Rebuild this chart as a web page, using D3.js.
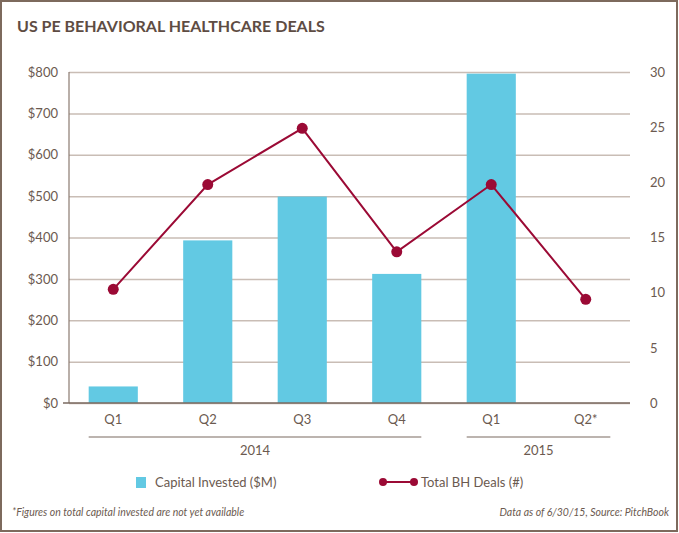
<!DOCTYPE html>
<html>
<head>
<meta charset="utf-8">
<script src="https://cdn.jsdelivr.net/npm/d3@7"></script>
<style>
  body { margin: 0; background: #fff; }
  text { font-family: Lato, "Open Sans", sans-serif; }
</style>
</head>
<body>
<div id="chart"></div>
<script>
// data
var quarters = ["Q1", "Q2", "Q3", "Q4", "Q1", "Q2*"];
var years = [{label: "2014", from: 0, to: 3}, {label: "2015", from: 4, to: 5}];
var capital = [40, 393, 499, 312, 796, null];
var deals = [10.3, 19.8, 24.9, 13.7, 19.8, 9.4];
var leftTicks = [0, 100, 200, 300, 400, 500, 600, 700, 800];
var rightTicks = [0, 5, 10, 15, 20, 25, 30];

var W = 679, H = 533;
var textColor = "#6b5a50", red = "#9b0a35", blue = "#62c9e3";

var svg = d3.select("#chart")
    .append("svg")
    .attr("width", W)
    .attr("height", H);

// border
svg.append("rect")
    .attr("x", 1).attr("y", 1)
    .attr("width", W - 3).attr("height", H - 3)
    .attr("fill", "none")
    .attr("stroke", "#7d6a5d")
    .attr("stroke-width", 2);

// title
svg.append("text")
    .attr("x", 17).attr("y", 32)
    .attr("fill", "#5e4c43")
    .style("font-size", "16px")
    .style("font-weight", "bold")
    .text("US PE BEHAVIORAL HEALTHCARE DEALS");

var x = d3.scaleBand()
    .domain(d3.range(quarters.length))
    .range([66, 633])
    .paddingInner(0.48)
    .paddingOuter(0.24);

var y = d3.scaleLinear().domain([0, 800]).range([403, 72]);
var y2 = d3.scaleLinear().domain([0, 30]).range([403, 72]);

// left axis with gridlines
var gLeft = svg.append("g")
    .attr("transform", "translate(69,0)")
    .call(d3.axisLeft(y).tickValues(leftTicks).tickSize(-561).tickPadding(11)
        .tickFormat(function (d) { return "$" + d; }));
gLeft.select(".domain").remove();
gLeft.selectAll(".tick line").attr("stroke", "#c9bdb5").attr("stroke-width", 1.5);
gLeft.selectAll(".tick text").attr("fill", textColor).style("font-size", "13px");

// right axis labels
var gRight = svg.append("g")
    .attr("transform", "translate(650,0)")
    .call(d3.axisRight(y2).tickValues(rightTicks).tickSize(0).tickPadding(0));
gRight.select(".domain").remove();
gRight.selectAll(".tick text").attr("fill", textColor).style("font-size", "13px");

// left axis line
svg.append("line")
    .attr("x1", 69).attr("x2", 69)
    .attr("y1", y(800)).attr("y2", y(0))
    .attr("stroke", "#8a7a70").attr("stroke-width", 1.2);

// bars
svg.append("g")
    .selectAll("rect")
    .data(capital)
    .enter()
    .filter(function (d) { return d != null; })
    .append("rect")
    .attr("x", function (d, i) { return x(capital.indexOf(d)); })
    .attr("y", function (d) { return y(d); })
    .attr("width", x.bandwidth())
    .attr("height", function (d) { return y(0) - y(d); })
    .attr("fill", blue);

// baseline
svg.append("line")
    .attr("x1", 63).attr("x2", 630)
    .attr("y1", y(0)).attr("y2", y(0))
    .attr("stroke", "#7a6a60").attr("stroke-width", 1.5);

// deals line
var cx = function (i) { return x(i) + x.bandwidth() / 2; };
var line = d3.line()
    .x(function (d, i) { return cx(i); })
    .y(function (d) { return y2(d); });
svg.append("path")
    .datum(deals)
    .attr("d", line)
    .attr("fill", "none")
    .attr("stroke", red)
    .attr("stroke-width", 2);
svg.append("g")
    .selectAll("circle")
    .data(deals)
    .enter()
    .append("circle")
    .attr("cx", function (d, i) { return cx(i); })
    .attr("cy", function (d) { return y2(d); })
    .attr("r", 5.5)
    .attr("fill", red);

// quarter labels
svg.append("g")
    .selectAll("text")
    .data(quarters)
    .enter()
    .append("text")
    .attr("x", function (d, i) { return cx(i); })
    .attr("y", 424)
    .attr("text-anchor", "middle")
    .attr("fill", textColor)
    .style("font-size", "13px")
    .text(function (d) { return d; });

// year groups
var yg = svg.append("g").selectAll("g").data(years).enter().append("g");
yg.append("line")
    .attr("x1", function (d) { return x(d.from); })
    .attr("x2", function (d) { return x(d.to) + x.bandwidth(); })
    .attr("y1", 437).attr("y2", 437)
    .attr("stroke", "#7a6a60").attr("stroke-width", 1.2);
yg.append("text")
    .attr("x", function (d) { return (x(d.from) + x(d.to) + x.bandwidth()) / 2; })
    .attr("y", 455)
    .attr("text-anchor", "middle")
    .attr("fill", textColor)
    .style("font-size", "13px")
    .text(function (d) { return d.label; });

// legend
svg.append("rect")
    .attr("x", 136).attr("y", 477)
    .attr("width", 10).attr("height", 11)
    .attr("fill", blue);
svg.append("text")
    .attr("x", 155).attr("y", 487)
    .attr("fill", textColor)
    .style("font-size", "13px")
    .text("Capital Invested ($M)");
svg.append("line")
    .attr("x1", 383).attr("x2", 414)
    .attr("y1", 482).attr("y2", 482)
    .attr("stroke", red).attr("stroke-width", 2);
svg.selectAll(".legdot")
    .data([383, 414])
    .enter()
    .append("circle")
    .attr("cx", function (d) { return d; })
    .attr("cy", 482)
    .attr("r", 4)
    .attr("fill", red);
svg.append("text")
    .attr("x", 421).attr("y", 487)
    .attr("fill", textColor)
    .style("font-size", "13px")
    .text("Total BH Deals (#)");

// footnotes
svg.append("text")
    .attr("x", 12).attr("y", 516)
    .attr("fill", textColor)
    .style("font-size", "10.5px")
    .style("font-style", "italic")
    .text("*Figures on total capital invested are not yet available");
svg.append("text")
    .attr("x", 669).attr("y", 516)
    .attr("text-anchor", "end")
    .attr("fill", textColor)
    .style("font-size", "10.5px")
    .style("font-style", "italic")
    .text("Data as of 6/30/15, Source: PitchBook");
</script>
</body>
</html>
